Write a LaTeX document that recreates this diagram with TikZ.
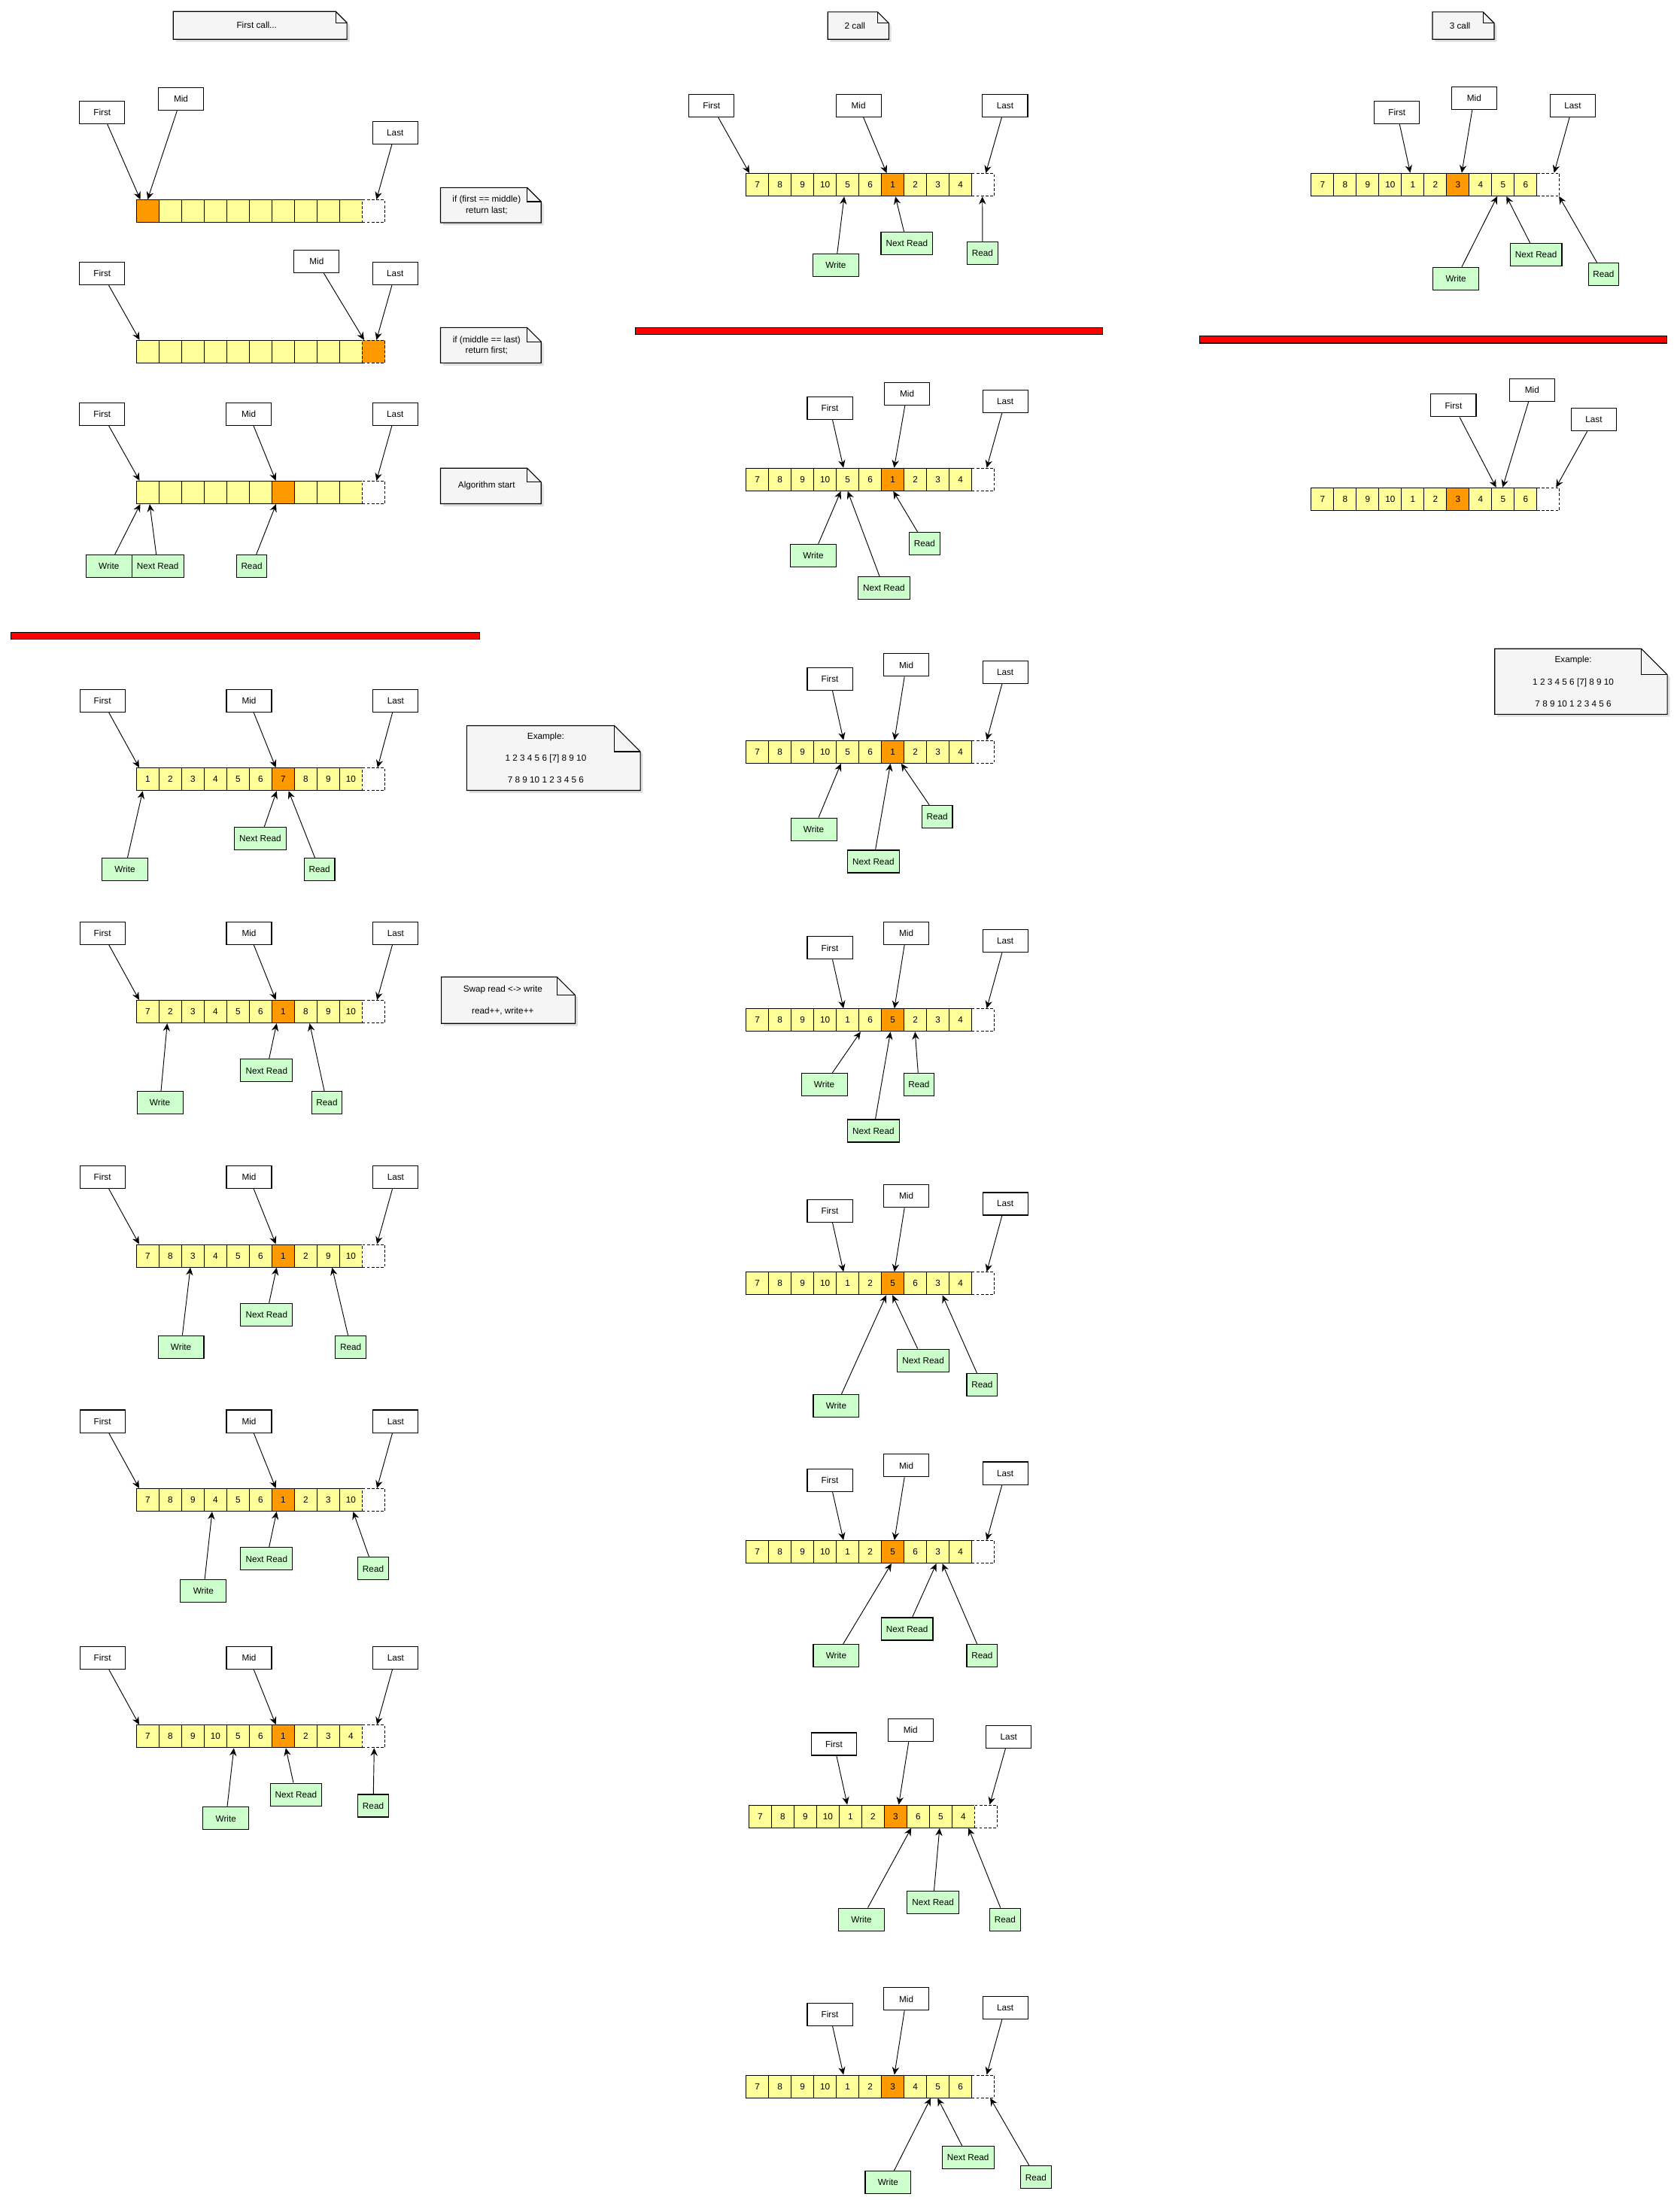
\documentclass[tikz,border=0pt]{standalone}
\usepackage{fontspec}
\setmainfont{Liberation Sans}
\usetikzlibrary{arrows.meta}
\definecolor{cellc}{HTML}{FFFF99}
\definecolor{hotc}{HTML}{FF9900}
\definecolor{grn}{HTML}{CCFFCC}
\definecolor{notec}{HTML}{F5F5F5}
\definecolor{redc}{HTML}{FF0000}
\tikzset{
  base/.style={draw, line width=0.6pt, inner sep=0pt, minimum height=16.09pt, text=black},
  cell/.style={base, minimum width=16.09pt},
  dcell/.style={base, dash pattern=on 2pt off 1.3pt, minimum width=16.09pt},
  lbl/.style={base, fill=white, minimum width=32.2pt},
  wr/.style={base, fill=grn, minimum width=32.7pt},
  nr/.style={base, fill=grn, minimum width=36.9pt},
  rd/.style={base, fill=grn, minimum width=21.8pt},
  arr/.style={draw, line width=0.5pt, -{Stealth[length=5.5pt,width=5pt]}},
  notetext/.style={align=center, inner sep=0pt},
  redbar/.style={draw, line width=0.6pt, fill=redc, inner sep=0pt},
}
% array of 10 cells plus a dashed one
\newcommand\cells[6]{% #1 prefix, #2 left, #3 top, #4 hot index, #5 dashed fill, #6 values
  \foreach \v [count=\i from 0] in {#6} {
    \ifnum\i=#4\relax\def\cf{hotc}\else\def\cf{cellc}\fi
    \node[cell, fill=\cf] (#1c\i) at ({#2+(\i+0.5)*16.09},{#3+8.045}) {\v};
  }
  \node[dcell, fill=#5] (#1c10) at ({#2+10.5*16.09},{#3+8.045}) {};
}
\newcommand\conn[3]{\draw[arr] (#1) -- ([xshift=#3pt]#2);}
% note with folded corner
\newcommand\notebox[7]{% #1 name, #2 x1, #3 y1, #4 x2, #5 y2, #6 fold, #7 text
  \fill[black, opacity=0.13] (#2+1.8,#3+1.8) -- (#4-#6+1.8,#3+1.8) -- (#4+1.8,#3+#6+1.8) -- (#4+1.8,#5+1.8) -- (#2+1.8,#5+1.8) -- cycle;
  \filldraw[fill=notec, line width=0.6pt] (#2,#3) -- (#4-#6,#3) -- (#4,#3+#6) -- (#4,#5) -- (#2,#5) -- cycle;
  \draw[line width=0.6pt] (#4-#6,#3) -- (#4-#6,#3+#6) -- (#4,#3+#6);
  \node[notetext] (#1) at ({(#2+#4)/2-0.3*#6},{(#3+#5)/2}) {#7};
}
\begin{document}
\begin{tikzpicture}[x=1pt, y=-1pt, font=\fontsize{6.3}{7.8}\selectfont]
\path[use as bounding box, fill=white] (0,0) rectangle (1197,1568);

% ---------------- notes ----------------
\notebox{n1}{123.5}{8.2}{247.3}{28}{8}{First call...}
\notebox{n2}{590}{8.5}{633.5}{28}{8}{2 call}
\notebox{n3}{1021}{8.5}{1065}{28}{8}{3 call}
\notebox{n4}{314}{133.7}{385.7}{158.7}{10}{if (first == middle)\\return last;}
\notebox{n5}{314}{233.5}{385.7}{258.7}{10}{if (middle == last)\\return first;}
\notebox{n6}{314}{333.7}{385.7}{359}{10}{Algorithm start}
\notebox{n7}{332.7}{517.2}{456.4}{563.3}{18.5}{Example:\\[7.8pt]1 2 3 4 5 6 [7] 8 9 10\\[7.8pt]7 8 9 10 1 2 3 4 5 6}
\notebox{n8}{314.6}{696.3}{410}{729.4}{13}{Swap read <-> write\\[7.8pt]read++, write++}
\notebox{n9}{1065.4}{462.4}{1188.4}{509.1}{18.5}{Example:\\[7.8pt]1 2 3 4 5 6 [7] 8 9 10\\[7.8pt]7 8 9 10 1 2 3 4 5 6}

% ---------------- red separators ----------------
\node[redbar, minimum width=334pt, minimum height=4.7pt] (bar1) at (175,453.15) {};
\node[redbar, minimum width=333pt, minimum height=5pt] (bar2) at (619.5,236) {};
\node[redbar, minimum width=333pt, minimum height=5pt] (bar3) at (1021.5,242) {};

% ================= column A =================
% A1
\node[lbl] (A1F) at (72.8,80) {First};
\node[lbl] (A1M) at (129,70.5) {Mid};
\node[lbl] (A1L) at (281.7,94.5) {Last};
\cells{A1}{97.3}{142.5}{0}{white}{\relax,\relax,\relax,\relax,\relax,\relax,\relax,\relax,\relax,\relax}
\conn{A1F}{A1c0.north west}{3.0}
\conn{A1M}{A1c0.north west}{8.2}
\conn{A1L}{A1c0.north west}{171.3}

% A2
\node[lbl] (A2F) at (72.8,195) {First};
\node[lbl] (A2M) at (225.7,186.3) {Mid};
\node[lbl] (A2L) at (281.7,195) {Last};
\cells{A2}{97.3}{242.6}{-1}{hotc}{\relax,\relax,\relax,\relax,\relax,\relax,\relax,\relax,\relax,\relax}
\conn{A2F}{A2c0.north west}{2.5}
\conn{A2M}{A2c0.north west}{162.5}
\conn{A2L}{A2c0.north west}{171.3}

% A3
\node[lbl] (A3F) at (72.8,295) {First};
\node[lbl] (A3M) at (177.3,295) {Mid};
\node[lbl] (A3L) at (281.7,295) {Last};
\cells{A3}{97.3}{342.9}{6}{white}{\relax,\relax,\relax,\relax,\relax,\relax,\relax,\relax,\relax,\relax}
\node[wr] (A3W) at (77.65,403.5) {Write};
\node[nr] (A3N) at (112.45,403.5) {Next Read};
\node[rd] (A3R) at (179.4,403.5) {Read};
\conn{A3F}{A3c0.north west}{2.5}
\conn{A3M}{A3c0.north west}{99.6}
\conn{A3L}{A3c0.north west}{171.3}
\conn{A3W}{A3c0.south west}{3.0}
\conn{A3N}{A3c0.south west}{9.7}
\conn{A3R}{A3c0.south west}{99.8}

% A4
\node[lbl] (A4F) at (73,499.5) {First};
\node[lbl] (A4M) at (177.5,499.5) {Mid};
\node[lbl] (A4L) at (282,499.5) {Last};
\cells{A4}{97.3}{547.4}{6}{white}{1,2,3,4,5,6,7,8,9,10}
\node[wr] (A4W) at (89,619.6) {Write};
\node[nr] (A4N) at (185.5,597.6) {Next Read};
\node[rd] (A4R) at (227.7,619.6) {Read};
\conn{A4F}{A4c0.north west}{2.2}
\conn{A4M}{A4c0.north west}{99.6}
\conn{A4L}{A4c0.north west}{172.1}
\conn{A4W}{A4c0.south west}{4.7}
\conn{A4N}{A4c0.south west}{100.2}
\conn{A4R}{A4c0.south west}{108.7}

% A5
\node[lbl] (A5F) at (73,665) {First};
\node[lbl] (A5M) at (177.5,665) {Mid};
\node[lbl] (A5L) at (282,665) {Last};
\cells{A5}{97.3}{713}{6}{white}{7,2,3,4,5,6,1,8,9,10}
\node[wr] (A5W) at (114,786) {Write};
\node[nr] (A5N) at (190,763) {Next Read};
\node[rd] (A5R) at (233,786) {Read};
\conn{A5F}{A5c0.north west}{2.2}
\conn{A5M}{A5c0.north west}{99.6}
\conn{A5L}{A5c0.north west}{171.7}
\conn{A5W}{A5c0.south west}{22.2}
\conn{A5N}{A5c0.south west}{100.2}
\conn{A5R}{A5c0.south west}{123.7}

% A6
\node[lbl] (A6F) at (73,839) {First};
\node[lbl] (A6M) at (177.5,839) {Mid};
\node[lbl] (A6L) at (282,839) {Last};
\cells{A6}{97.3}{887}{6}{white}{7,8,3,4,5,6,1,2,9,10}
\node[wr] (A6W) at (129,960) {Write};
\node[nr] (A6N) at (190,937) {Next Read};
\node[rd] (A6R) at (250,960) {Read};
\conn{A6F}{A6c0.north west}{2.2}
\conn{A6M}{A6c0.north west}{99.6}
\conn{A6L}{A6c0.north west}{171.7}
\conn{A6W}{A6c0.south west}{38.7}
\conn{A6N}{A6c0.south west}{100.2}
\conn{A6R}{A6c0.south west}{139.7}

% A7
\node[lbl] (A7F) at (73,1013) {First};
\node[lbl] (A7M) at (177.5,1013) {Mid};
\node[lbl] (A7L) at (282,1013) {Last};
\cells{A7}{97.3}{1061}{6}{white}{7,8,9,4,5,6,1,2,3,10}
\node[wr] (A7W) at (145,1134) {Write};
\node[nr] (A7N) at (190,1111) {Next Read};
\node[rd] (A7R) at (266,1118) {Read};
\conn{A7F}{A7c0.north west}{2.2}
\conn{A7M}{A7c0.north west}{99.6}
\conn{A7L}{A7c0.north west}{171.7}
\conn{A7W}{A7c0.south west}{54.2}
\conn{A7N}{A7c0.south west}{100.2}
\conn{A7R}{A7c0.south west}{154.7}

% A8
\node[lbl] (A8F) at (73,1181.5) {First};
\node[lbl] (A8M) at (177.5,1181.5) {Mid};
\node[lbl] (A8L) at (282,1181.5) {Last};
\cells{A8}{97.3}{1229.5}{6}{white}{7,8,9,10,5,6,1,2,3,4}
\node[wr] (A8W) at (161,1296) {Write};
\node[nr] (A8N) at (211,1279) {Next Read};
\node[rd] (A8R) at (266,1287) {Read};
\conn{A8F}{A8c0.north west}{2.2}
\conn{A8M}{A8c0.north west}{99.6}
\conn{A8L}{A8c0.north west}{171.7}
\conn{A8W}{A8c0.south west}{69.7}
\conn{A8N}{A8c0.south west}{106.7}
\conn{A8R}{A8c0.south west}{169.7}

% ================= column B =================
% B1
\node[lbl] (B1F) at (507.2,75.2) {First};
\node[lbl] (B1M) at (611.9,75.2) {Mid};
\node[lbl] (B1L) at (716.4,75.2) {Last};
\cells{B1}{531.7}{123.7}{6}{white}{7,8,9,10,5,6,1,2,3,4}
\node[wr] (B1W) at (595.7,189) {Write};
\node[nr] (B1N) at (646.4,173.5) {Next Read};
\node[rd] (B1R) at (700.3,180.4) {Read};
\conn{B1F}{B1c0.north west}{2.8}
\conn{B1M}{B1c0.north west}{100.6}
\conn{B1L}{B1c0.north west}{171.2}
\conn{B1W}{B1c0.south west}{70.3}
\conn{B1N}{B1c0.south west}{106.8}
\conn{B1R}{B1c0.south west}{168.8}

% B2
\node[lbl] (B2F) at (591.5,291) {First};
\node[lbl] (B2M) at (646.5,280.5) {Mid};
\node[lbl] (B2L) at (716.5,286) {Last};
\cells{B2}{531.7}{333.7}{6}{white}{7,8,9,10,5,6,1,2,3,4}
\node[wr] (B2W) at (579.7,396) {Write};
\node[nr] (B2N) at (630,419) {Next Read};
\node[rd] (B2R) at (659,387.5) {Read};
\conn{B2F}{B2c0.north west}{69.8}
\conn{B2M}{B2c0.north west}{105.9}
\conn{B2L}{B2c0.north west}{171.9}
\conn{B2W}{B2c0.south west}{67.9}
\conn{B2N}{B2c0.south west}{72.8}
\conn{B2R}{B2c0.south west}{105.3}

% B3
\node[lbl] (B3F) at (591.5,484) {First};
\node[lbl] (B3M) at (646,474) {Mid};
\node[lbl] (B3L) at (716.5,479) {Last};
\cells{B3}{531.7}{527.8}{6}{white}{7,8,9,10,5,6,1,2,3,4}
\node[wr] (B3W) at (580,591) {Write};
\node[nr] (B3N) at (622.5,614) {Next Read};
\node[rd] (B3R) at (668,582) {Read};
\conn{B3F}{B3c0.north west}{69.8}
\conn{B3M}{B3c0.north west}{106.1}
\conn{B3L}{B3c0.north west}{171.9}
\conn{B3W}{B3c0.south west}{68.0}
\conn{B3N}{B3c0.south west}{103.3}
\conn{B3R}{B3c0.south west}{110.9}

% B4
\node[lbl] (B4F) at (591.5,675.6) {First};
\node[lbl] (B4M) at (646,665) {Mid};
\node[lbl] (B4L) at (716.5,670.7) {Last};
\cells{B4}{531.7}{719}{6}{white}{7,8,9,10,1,6,5,2,3,4}
\node[wr] (B4W) at (587.5,773) {Write};
\node[nr] (B4N) at (622.5,806) {Next Read};
\node[rd] (B4R) at (655,773) {Read};
\conn{B4F}{B4c0.north west}{69.8}
\conn{B4M}{B4c0.north west}{106.1}
\conn{B4L}{B4c0.north west}{171.9}
\conn{B4W}{B4c0.south west}{82.0}
\conn{B4N}{B4c0.south west}{103.3}
\conn{B4R}{B4c0.south west}{120.8}

% B5
\node[lbl] (B5F) at (591.5,863) {First};
\node[lbl] (B5M) at (646,852.5) {Mid};
\node[lbl] (B5L) at (716.5,858) {Last};
\cells{B5}{531.7}{906.7}{6}{white}{7,8,9,10,1,2,5,6,3,4}
\node[wr] (B5W) at (596,1002) {Write};
\node[nr] (B5N) at (658,969.6) {Next Read};
\node[rd] (B5R) at (700,987) {Read};
\conn{B5F}{B5c0.north west}{69.8}
\conn{B5M}{B5c0.north west}{106.1}
\conn{B5L}{B5c0.north west}{171.9}
\conn{B5W}{B5c0.south west}{100.3}
\conn{B5N}{B5c0.south west}{104.7}
\conn{B5R}{B5c0.south west}{140.3}

% B6
\node[lbl] (B6F) at (591.5,1055) {First};
\node[lbl] (B6M) at (646,1044.5) {Mid};
\node[lbl] (B6L) at (716.5,1050) {Last};
\cells{B6}{531.7}{1098}{6}{white}{7,8,9,10,1,2,5,6,3,4}
\node[wr] (B6W) at (596,1180) {Write};
\node[nr] (B6N) at (646.5,1161) {Next Read};
\node[rd] (B6R) at (700,1180) {Read};
\conn{B6F}{B6c0.north west}{69.8}
\conn{B6M}{B6c0.north west}{106.1}
\conn{B6L}{B6c0.north west}{171.9}
\conn{B6W}{B6c0.south west}{104.0}
\conn{B6N}{B6c0.south west}{136.0}
\conn{B6R}{B6c0.south west}{140.3}

% B7
\node[lbl] (B7F) at (594.4,1243) {First};
\node[lbl] (B7M) at (649,1233) {Mid};
\node[lbl] (B7L) at (719,1238) {Last};
\cells{B7}{533.8}{1286.5}{6}{white}{7,8,9,10,1,2,3,6,5,4}
\node[wr] (B7W) at (614,1368) {Write};
\node[nr] (B7N) at (665,1356) {Next Read};
\node[rd] (B7R) at (716.4,1368) {Read};
\conn{B7F}{B7c0.north west}{70.4}
\conn{B7M}{B7c0.north west}{107.1}
\conn{B7L}{B7c0.north west}{171.9}
\conn{B7W}{B7c0.south west}{116.0}
\conn{B7N}{B7c0.south west}{136.2}
\conn{B7R}{B7c0.south west}{156.8}

% B8
\node[lbl] (B8F) at (591.5,1435.6) {First};
\node[lbl] (B8M) at (646,1424.7) {Mid};
\node[lbl] (B8L) at (716.5,1431) {Last};
\cells{B8}{531.7}{1479}{6}{white}{7,8,9,10,1,2,3,4,5,6}
\node[wr] (B8W) at (633,1555.5) {Write};
\node[nr] (B8N) at (690,1537.7) {Next Read};
\node[rd] (B8R) at (738.4,1551.8) {Read};
\conn{B8F}{B8c0.north west}{69.8}
\conn{B8M}{B8c0.north west}{106.1}
\conn{B8L}{B8c0.north west}{171.9}
\conn{B8W}{B8c0.south west}{132.0}
\conn{B8N}{B8c0.south west}{136.9}
\conn{B8R}{B8c0.south west}{174.4}

% ================= column C =================
% C1
\node[lbl] (C1F) at (995.7,80) {First};
\node[lbl] (C1M) at (1050.7,70) {Mid};
\node[lbl] (C1L) at (1121,75.3) {Last};
\cells{C1}{934.6}{123.5}{6}{white}{7,8,9,10,1,2,3,4,5,6}
\node[wr] (C1W) at (1037.7,198.6) {Write};
\node[nr] (C1N) at (1094.8,181.5) {Next Read};
\node[rd] (C1R) at (1143,195.4) {Read};
\conn{C1F}{C1c0.north west}{70.9}
\conn{C1M}{C1c0.north west}{107.6}
\conn{C1L}{C1c0.north west}{173.4}
\conn{C1W}{C1c0.south west}{132.9}
\conn{C1N}{C1c0.south west}{139.4}
\conn{C1R}{C1c0.south west}{176.9}

% C2
\node[lbl] (C2F) at (1036,289) {First};
\node[lbl] (C2M) at (1092,278) {Mid};
\node[lbl] (C2L) at (1136,299) {Last};
\cells{C2}{934.6}{347.7}{6}{white}{7,8,9,10,1,2,3,4,5,6}
\conn{C2F}{C2c0.north west}{132.1}
\conn{C2M}{C2c0.north west}{136.7}
\conn{C2L}{C2c0.north west}{174.8}
\end{tikzpicture}
\end{document}
